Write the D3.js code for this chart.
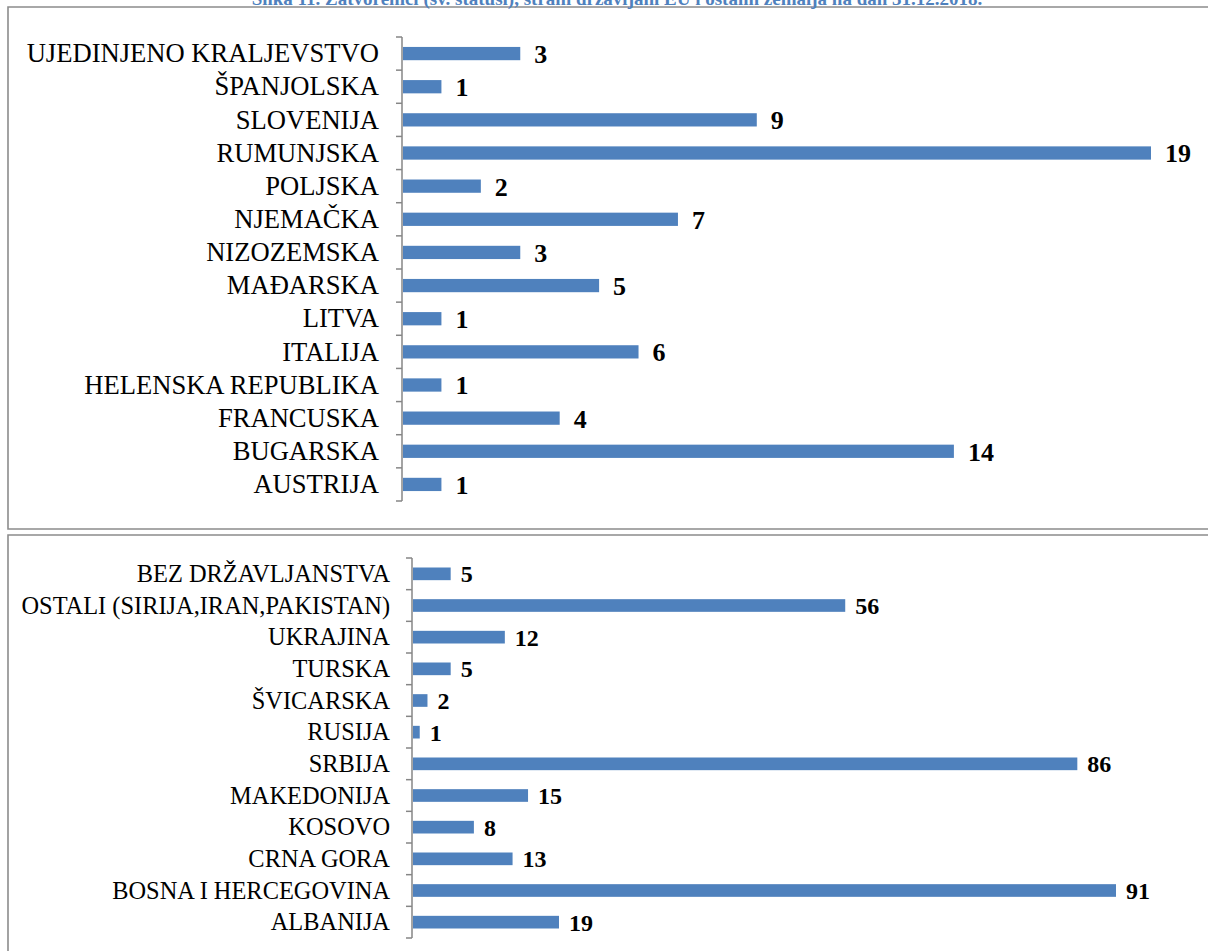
<!DOCTYPE html>
<meta charset="utf-8">
<script src="https://cdn.jsdelivr.net/npm/d3@7"></script>
<style>
body { margin: 0; background: #fff; }
svg { display: block; }
.cat { font-family: "Liberation Serif", "Times New Roman", serif; fill: #000; }
.val { font-family: "Liberation Serif", "Times New Roman", serif; font-weight: bold; fill: #000; }
</style>
<body>
<script>

var titleText = "Slika 11. Zatvorenici (sv. statusi), strani državljani EU i ostalih zemalja na dan 31.12.2018.";

// EU countries (top chart), listed top to bottom
var euCountries = ["UJEDINJENO KRALJEVSTVO", "ŠPANJOLSKA", "SLOVENIJA", "RUMUNJSKA", "POLJSKA",
  "NJEMAČKA", "NIZOZEMSKA", "MAĐARSKA", "LITVA", "ITALIJA", "HELENSKA REPUBLIKA",
  "FRANCUSKA", "BUGARSKA", "AUSTRIJA"];
var euValues = [3, 1, 9, 19, 2, 7, 3, 5, 1, 6, 1, 4, 14, 1];

// other countries (bottom chart), listed top to bottom
var otherCountries = ["BEZ DRŽAVLJANSTVA", "OSTALI (SIRIJA,IRAN,PAKISTAN)", "UKRAJINA", "TURSKA",
  "ŠVICARSKA", "RUSIJA", "SRBIJA", "MAKEDONIJA", "KOSOVO", "CRNA GORA",
  "BOSNA I HERCEGOVINA", "ALBANIJA"];
var otherValues = [5, 56, 12, 5, 2, 1, 86, 15, 8, 13, 91, 19];

var width = 1208, height = 951;
var barColor = "#4f81bd", axisColor = "#868686", frameColor = "#8c8c8c";

var svg = d3.select("body").append("svg")
    .attr("width", width)
    .attr("height", height);

// panel frames (right side runs off the page)
svg.append("path")
    .attr("d", "M1210,7H8V529H1210")
    .attr("fill", "none").attr("stroke", frameColor).attr("stroke-width", 1.6);
svg.append("path")
    .attr("d", "M1210,535H8V960")
    .attr("fill", "none").attr("stroke", frameColor).attr("stroke-width", 1.6);

// title, mostly cut off at the top of the page
svg.append("text")
    .attr("x", 617).attr("y", 5)
    .attr("text-anchor", "middle")
    .attr("font-family", "Liberation Serif, serif")
    .attr("font-weight", "bold")
    .attr("font-size", "19px")
    .attr("fill", "#4f81bd")
    .text(titleText);

function drawChart(cats, vals, opt) {
  var data = cats.map(function(c, i) { return {name: c, value: vals[i]}; });

  var y = d3.scaleBand()
      .domain(cats)
      .range([opt.top, opt.bottom])
      .paddingInner(0.6)
      .paddingOuter(0.3);

  var x = d3.scaleLinear()
      .domain([0, opt.max])
      .range([opt.axisX, opt.maxX]);

  var g = svg.append("g");

  // bars
  g.selectAll("rect")
      .data(data)
      .enter().append("rect")
      .attr("x", x(0) + 1)
      .attr("y", function(d) { return y(d.name); })
      .attr("width", function(d) { return x(d.value) - x(0) - 1; })
      .attr("height", y.bandwidth())
      .attr("fill", barColor);

  // category axis with ticks at the band boundaries
  var bounds = cats.map(function(c) { return y(c) - y.step() * 0.3; });
  bounds.push(opt.bottom);
  g.append("line")
      .attr("x1", opt.axisX).attr("x2", opt.axisX)
      .attr("y1", opt.top).attr("y2", opt.bottom)
      .attr("stroke", axisColor).attr("stroke-width", 1.5);
  g.selectAll(".tick")
      .data(bounds)
      .enter().append("line")
      .attr("class", "tick")
      .attr("x1", opt.axisX - 6).attr("x2", opt.axisX)
      .attr("y1", function(d) { return d; })
      .attr("y2", function(d) { return d; })
      .attr("stroke", axisColor).attr("stroke-width", 1.5);

  // category labels
  g.selectAll(".cat")
      .data(data)
      .enter().append("text")
      .attr("class", "cat")
      .attr("x", opt.labelX)
      .attr("y", function(d) { return y(d.name) + y.bandwidth() / 2; })
      .attr("dy", "0.33em")
      .attr("text-anchor", "end")
      .attr("font-size", opt.catSize)
      .text(function(d) { return d.name; });

  // value labels
  g.selectAll(".val")
      .data(data)
      .enter().append("text")
      .attr("class", "val")
      .attr("x", function(d) { return x(d.value) + opt.valGap; })
      .attr("y", function(d) { return y(d.name) + y.bandwidth() / 2; })
      .attr("dy", "0.36em")
      .attr("font-size", opt.valSize)
      .text(function(d) { return d.value; });
}

drawChart(euCountries, euValues, {
  top: 37, bottom: 501, axisX: 402, maxX: 1151, max: 19,
  labelX: 379, catSize: "26.6px", valSize: "26px", valGap: 14
});

drawChart(otherCountries, otherValues, {
  top: 558, bottom: 938, axisX: 412, maxX: 1116, max: 91,
  labelX: 390, catSize: "24.4px", valSize: "24px", valGap: 10
});

</script>
</body>
